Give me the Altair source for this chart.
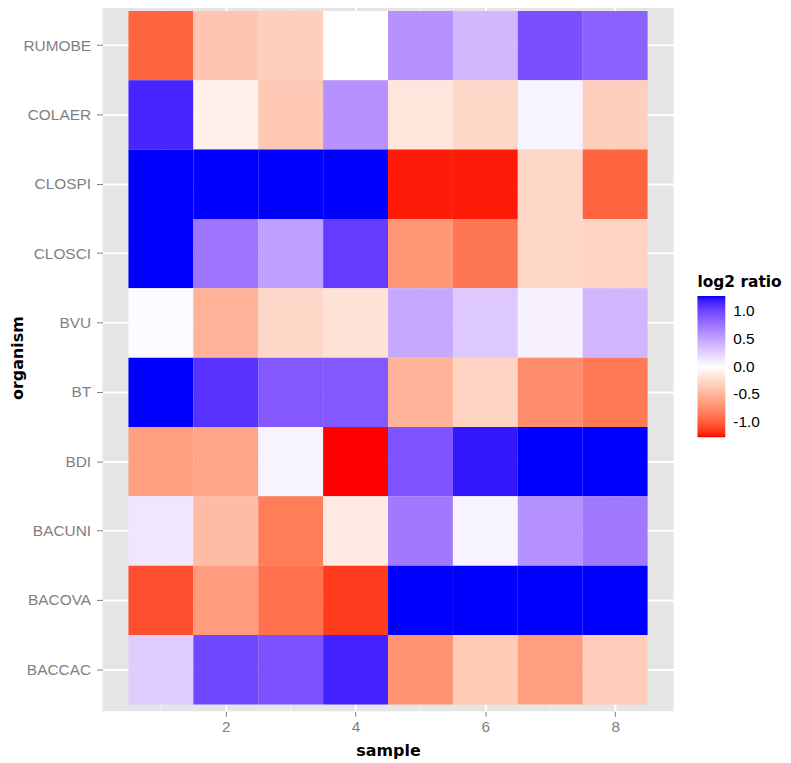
import altair as alt
import pandas as pd

organisms = ["RUMOBE", "COLAER", "CLOSPI", "CLOSCI", "BVU", "BT", "BDI", "BACUNI", "BACOVA", "BACCAC"]
samples = [1, 2, 3, 4, 5, 6, 7, 8]

RUMOBE = [-0.98, -0.39, -0.33, 0.0, 0.59, 0.38, 0.96, 0.87]
COLAER = [1.17, -0.1, -0.37, 0.59, -0.17, -0.27, 0.06, -0.33]
CLOSPI = [1.28, 1.28, 1.28, 1.28, -1.25, -1.25, -0.27, -0.98]
CLOSCI = [1.28, 0.76, 0.51, 1.06, -0.70, -0.89, -0.27, -0.30]
BVU = [0.02, -0.51, -0.27, -0.2, 0.47, 0.29, 0.08, 0.39]
BT = [1.28, 1.11, 0.91, 0.91, -0.51, -0.30, -0.76, -0.87]
BDI = [-0.64, -0.60, 0.06, -1.28, 0.94, 1.22, 1.28, 1.28]
BACUNI = [0.13, -0.46, -0.85, -0.15, 0.73, 0.06, 0.60, 0.73]
BACOVA = [-1.09, -0.66, -0.92, -1.17, 1.28, 1.28, 1.28, 1.28]
BACCAC = [0.27, 1.0, 0.95, 1.18, -0.72, -0.36, -0.64, -0.34]

rows = {"RUMOBE": RUMOBE, "COLAER": COLAER, "CLOSPI": CLOSPI, "CLOSCI": CLOSCI,
        "BVU": BVU, "BT": BT, "BDI": BDI, "BACUNI": BACUNI, "BACOVA": BACOVA, "BACCAC": BACCAC}

minor_breaks = [1, 3, 5, 7]
major_breaks = [2, 4, 6, 8]
legend_values = [-1.0, -0.5, 0.0, 0.5, 1.0]
limit = 1.28

records = []
for org in organisms:
    for s, v in zip(samples, rows[org]):
        records.append({"organism": org, "sample": s, "value": v})
df = pd.DataFrame(records)
minor_df = pd.DataFrame({"sample": minor_breaks})

xscale = alt.Scale(domain=[0.1, 8.9], nice=False, zero=False)
label_font = "Liberation Sans"
title_font = "DejaVu Sans"
grey = "#7F7F7F"

xaxis = alt.Axis(values=major_breaks, grid=True, gridColor="white", gridWidth=2, zindex=0,
                 domain=False, tickColor=grey, tickSize=5, tickWidth=1,
                 labelColor=grey, labelFont=label_font, labelFontSize=15.5,
                 labelPadding=3, titleFont=title_font, titleFontSize=16,
                 titleFontWeight="bold", titleColor="black",
                 titleBaseline="alphabetic", titleY=44)

minor = alt.Chart(minor_df).mark_rule(color="#F2F2F2", strokeWidth=1).encode(
    x=alt.X("sample:Q", scale=xscale, title="sample", axis=xaxis)
)

tiles = alt.Chart(df).transform_calculate(
    x0="datum.sample - 0.5", x1="datum.sample + 0.5"
).mark_rect(strokeWidth=0).encode(
    x=alt.X("x0:Q", scale=xscale, title="sample", axis=xaxis),
    x2="x1:Q",
    y=alt.Y("organism:N", sort=organisms, title="organism",
            scale=alt.Scale(paddingInner=0, paddingOuter=0.1),
            axis=alt.Axis(grid=True, gridColor="white", gridWidth=2, bandPosition=0.5, zindex=0,
                          domain=False, tickColor=grey, tickSize=6, tickWidth=1,
                          labelColor=grey, labelFont=label_font, labelFontSize=15.5,
                          labelPadding=6, titleFont=title_font, titleFontSize=16,
                          titleFontWeight="bold", titleColor="black",
                          titleBaseline="alphabetic", titleX=-80)),
    color=alt.Color("value:Q", title="log2 ratio",
                    scale=alt.Scale(domain=[-limit, 0, limit],
                                    range=["#FF0000", "#FFFFFF", "#0000FF"],
                                    interpolate="lab"),
                    legend=alt.Legend(orient="none", legendX=598, legendY=272,
                                      values=legend_values,
                                      labelExpr="datum.value < 0 ? '-' + format(-datum.value, '.1f') : format(datum.value, '.1f')",
                                      gradientLength=142, gradientThickness=28,
                                      gradientStrokeWidth=0,
                                      titleFont=title_font, titleFontSize=15.5,
                                      titleFontWeight="bold", titleColor="black",
                                      titlePadding=6,
                                      labelFont=label_font, labelFontSize=15.5,
                                      labelColor="black", labelOffset=8)),
)

chart = alt.layer(minor, tiles).properties(
    width=574, height=711,
    background="white",
    autosize=alt.AutoSizeParams(type="none"),
    padding={"left": 95, "top": -6, "right": 110, "bottom": 50},
).configure_view(fill="#E5E5E5", strokeWidth=0)

chart.save("out.html", embed_options={"renderer": "svg", "actions": False})
